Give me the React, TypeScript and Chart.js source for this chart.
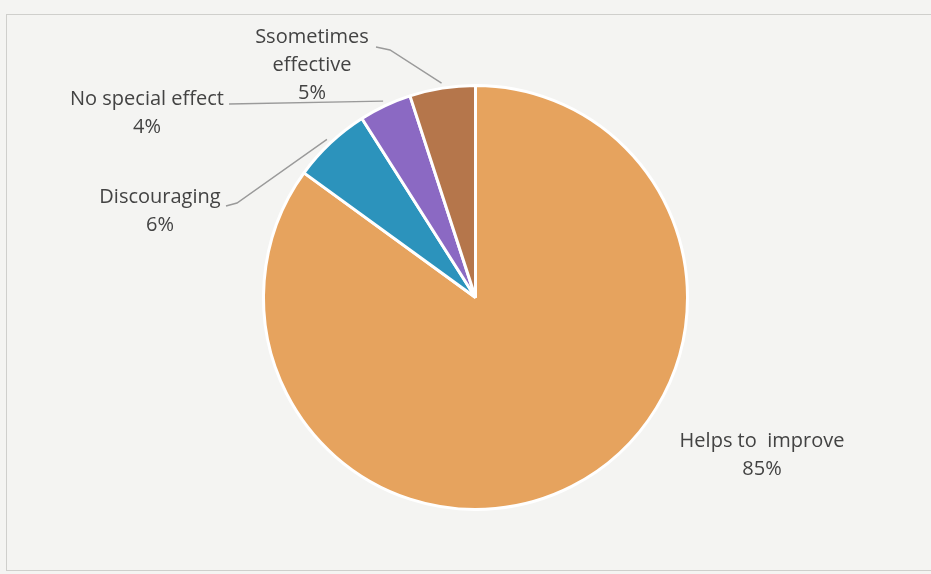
import React, { useEffect, useRef } from "react";
import { Chart, registerables } from "chart.js";

Chart.register(...registerables);

const categories = ["Helps to  improve", "Discouraging", "No special effect", "Ssometimes effective"];
const values = [85, 6, 4, 5];
const labelLines = [
  ["Helps to  improve", "85%"],
  ["Discouraging", "6%"],
  ["No special effect", "4%"],
  ["Ssometimes", "effective", "5%"],
];
const colors = ["#E6A35E", "#2C93BC", "#8B69C3", "#B5764B"];

// label layout: text center x, first line middle y, leader polyline start points
const labelLayout = [
  { x: 762, y: 441, leader: null as null | number[][] },
  { x: 160, y: 197, leader: [[226, 206], [237, 203]] },
  { x: 147, y: 99, leader: [[229, 104]] },
  { x: 312, y: 37, leader: [[376, 47], [390, 50]] },
];

const labelPlugin = {
  id: "pieLabels",
  beforeDraw(chart: any) {
    const ctx = chart.ctx;
    ctx.save();
    ctx.fillStyle = "#f4f4f2";
    ctx.fillRect(0, 0, chart.width, chart.height);
    ctx.strokeStyle = "#cfcfcc";
    ctx.lineWidth = 1;
    ctx.strokeRect(6.5, 14.5, chart.width + 10, 556);
    ctx.restore();
  },
  afterDraw(chart: any) {
    const ctx = chart.ctx;
    const meta = chart.getDatasetMeta(0);
    ctx.save();
    ctx.font = "20px 'Open Sans', sans-serif";
    ctx.fillStyle = "#434343";
    ctx.textAlign = "center";
    ctx.textBaseline = "middle";
    meta.data.forEach((arc: any, i: number) => {
      const lay = labelLayout[i];
      const lines = labelLines[i];
      lines.forEach((t, k) => ctx.fillText(t, lay.x, lay.y + k * 28));
      if (lay.leader) {
        const mid = (arc.startAngle + arc.endAngle) / 2;
        const r = arc.outerRadius + 5;
        const ex = arc.x + Math.cos(mid) * r;
        const ey = arc.y + Math.sin(mid) * r;
        ctx.strokeStyle = "#9a9a9a";
        ctx.lineWidth = 1.4;
        ctx.beginPath();
        ctx.moveTo(lay.leader[0][0], lay.leader[0][1]);
        for (let k = 1; k < lay.leader.length; k++) ctx.lineTo(lay.leader[k][0], lay.leader[k][1]);
        ctx.lineTo(ex, ey);
        ctx.stroke();
      }
    });
    ctx.restore();
  },
};

export default function App() {
  const ref = useRef<HTMLCanvasElement>(null);
  useEffect(() => {
    document.body.style.margin = "0";
    document.body.style.background = "#f4f4f2";
    const chart = new Chart(ref.current!, {
      type: "pie",
      data: {
        labels: categories,
        datasets: [
          {
            data: values,
            backgroundColor: colors,
            borderColor: "#ffffff",
            borderWidth: 3,
          },
        ],
      },
      options: {
        animation: false,
        responsive: false,
        layout: { padding: { top: 84, bottom: 63, left: 262, right: 242 } },
        plugins: { legend: { display: false }, tooltip: { enabled: false } },
      },
      plugins: [labelPlugin],
    });
    return () => chart.destroy();
  }, []);
  return <canvas ref={ref} width={931} height={574} style={{ display: "block" }} />;
}
